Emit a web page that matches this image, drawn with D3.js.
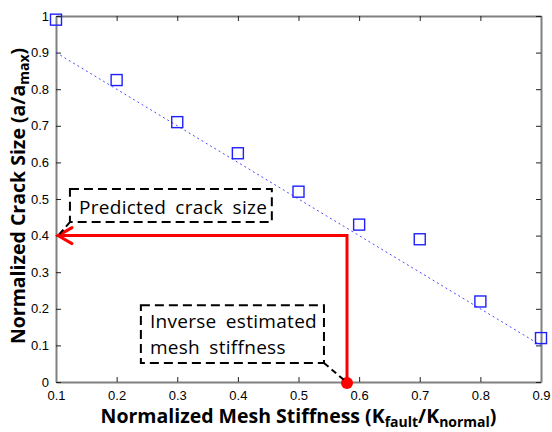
<!DOCTYPE html>
<html>
<head>
<meta charset="utf-8">
<script src="https://cdn.jsdelivr.net/npm/d3@7"></script>
<style>
  html, body { margin: 0; padding: 0; background: #fff; }
  svg { display: block; }
</style>
</head>
<body>
<svg id="chart" width="552" height="432"></svg>
<script>
// Measured crack size vs. normalized mesh stiffness
const stiffness = [0.1, 0.2, 0.3, 0.4, 0.5, 0.6, 0.7, 0.8, 0.9];
const crackSize = [0.99, 0.825, 0.71, 0.625, 0.52, 0.43, 0.39, 0.22, 0.12];

// Linear fit endpoints
const fitStiffness = [0.1, 0.9];
const fitCrack = [0.9, 0.1];

// Inverse estimate: predicted crack size and corresponding stiffness
const estStiffness = 0.58;
const estCrack = 0.4;

// Tick values
const xTicks = [0.1, 0.2, 0.3, 0.4, 0.5, 0.6, 0.7, 0.8, 0.9];
const yTicks = [0, 0.1, 0.2, 0.3, 0.4, 0.5, 0.6, 0.7, 0.8, 0.9, 1];

const svg = d3.select("#chart");
const plotL = 56, plotR = 541, plotT = 16, plotB = 382;

const x = d3.scaleLinear().domain([0.1, 0.9]).range([plotL, plotR]);
const y = d3.scaleLinear().domain([0, 1]).range([plotB, plotT]);

const tickFont = "'Liberation Sans', Arial, sans-serif";
const labelFont = "'Open Sans', 'Noto Sans', sans-serif";

// Axes (ticks point inward on all four sides)
function styleAxis(g) {
  g.select(".domain").attr("stroke", "#808080").attr("stroke-width", 2);
  g.selectAll(".tick line").attr("stroke", "#222").attr("stroke-width", 1);
  g.selectAll(".tick text").attr("fill", "#000")
    .style("font-family", tickFont).style("font-size", "13px");
}
const fmt = d => (d === 0 || d === 1) ? String(d) : d3.format(".1f")(d);

svg.append("g").attr("transform", `translate(0,${plotB})`)
  .call(d3.axisBottom(x).tickValues(xTicks).tickFormat(fmt).tickSizeInner(-5).tickSizeOuter(0).tickPadding(9))
  .call(styleAxis);
svg.append("g").attr("transform", `translate(0,${plotT})`)
  .call(d3.axisTop(x).tickValues(xTicks).tickFormat("").tickSizeInner(-5).tickSizeOuter(0))
  .call(styleAxis);
svg.append("g").attr("transform", `translate(${plotL},0)`)
  .call(d3.axisLeft(y).tickValues(yTicks).tickFormat(fmt).tickSizeInner(-5).tickSizeOuter(0).tickPadding(7))
  .call(styleAxis);
svg.append("g").attr("transform", `translate(${plotR},0)`)
  .call(d3.axisRight(y).tickValues(yTicks).tickFormat("").tickSizeInner(-5).tickSizeOuter(0))
  .call(styleAxis);

// Fit line
svg.append("line")
  .attr("x1", x(fitStiffness[0])).attr("y1", y(fitCrack[0]))
  .attr("x2", x(fitStiffness[1])).attr("y2", y(fitCrack[1]))
  .attr("stroke", "#4a4aff").attr("stroke-width", 1)
  .attr("stroke-dasharray", "2,3");

// Data markers
const sq = 11;
svg.append("g").selectAll("rect")
  .data(stiffness.map((s, i) => [s, crackSize[i]]))
  .join("rect")
  .attr("x", d => x(d[0]) - sq / 2).attr("y", d => y(d[1]) - sq / 2)
  .attr("width", sq).attr("height", sq)
  .attr("fill", "none").attr("stroke", "#2020ff").attr("stroke-width", 1.4);

// Inverse estimation path: from stiffness estimate up to fit, then across to crack axis
svg.append("path")
  .attr("d", d3.line()([
    [x(estStiffness), y(0)],
    [x(estStiffness), y(estCrack)],
    [x(0.1) + 2, y(estCrack)]
  ]))
  .attr("fill", "none").attr("stroke", "#ff0000").attr("stroke-width", 3)
  .attr("stroke-linejoin", "miter");

// Arrowhead
const ax = x(0.1) + 2, ay = y(estCrack);
svg.append("path")
  .attr("d", d3.line()([[ax + 14, ay - 8], [ax, ay], [ax + 14, ay + 8]]))
  .attr("fill", "none").attr("stroke", "#ff0000").attr("stroke-width", 3)
  .attr("stroke-linecap", "round").attr("stroke-linejoin", "miter");

svg.append("circle")
  .attr("cx", x(estStiffness)).attr("cy", y(0) + 1).attr("r", 6)
  .attr("fill", "#ff0000");

// Annotation callouts (data coordinates)
const calloutPredicted = { x0: 0.123, x1: 0.456, y0: 0.437, y1: 0.527 };
const calloutInverse = { x0: 0.240, x1: 0.542, y0: 0.052, y1: 0.210 };

function callout(box, lines, lineY, leader) {
  svg.append("rect")
    .attr("x", x(box.x0)).attr("y", y(box.y1))
    .attr("width", x(box.x1) - x(box.x0)).attr("height", y(box.y0) - y(box.y1))
    .attr("fill", "#fff").attr("stroke", "#000").attr("stroke-width", 2)
    .attr("stroke-dasharray", "9,5");
  svg.append("line")
    .attr("x1", leader[0][0]).attr("y1", leader[0][1])
    .attr("x2", leader[1][0]).attr("y2", leader[1][1])
    .attr("stroke", "#000").attr("stroke-width", 2).attr("stroke-dasharray", "6,4");
  lines.forEach((t, i) => {
    svg.append("text")
      .attr("x", x(box.x0) + 9).attr("y", lineY[i])
      .style("font-family", labelFont).style("font-size", "19px")
      .style("word-spacing", "4px").style("letter-spacing", "0.3px")
      .attr("fill", "#000").text(t);
  });
}

callout(calloutPredicted, ["Predicted crack size"],
  [y(calloutPredicted.y0) - 8],
  [[x(calloutPredicted.x0), y(calloutPredicted.y0)], [ax + 1, ay - 1]]);

callout(calloutInverse, ["Inverse estimated", "mesh stiffness"],
  [y(calloutInverse.y1) + 23, y(calloutInverse.y1) + 49],
  [[x(calloutInverse.x1), y(calloutInverse.y0)], [x(estStiffness) - 3, y(0) - 2]]);

// Axis titles
const xt = svg.append("text")
  .attr("x", (plotL + plotR) / 2).attr("y", 423)
  .attr("text-anchor", "middle")
  .style("font-family", labelFont).style("font-size", "19.5px").style("font-weight", "bold")
  .attr("fill", "#000");
xt.append("tspan").text("Normalized Mesh Stiffness (K");
xt.append("tspan").attr("dy", 4).style("font-size", "14px").text("fault");
xt.append("tspan").attr("dy", -4).text("/K");
xt.append("tspan").attr("dy", 4).style("font-size", "14px").text("normal");
xt.append("tspan").attr("dy", -4).text(")");

const yt = svg.append("text")
  .attr("transform", `translate(25,${(plotT + plotB) / 2 - 3}) rotate(-90)`)
  .attr("text-anchor", "middle")
  .style("font-family", labelFont).style("font-size", "19.5px").style("font-weight", "bold")
  .attr("fill", "#000");
yt.append("tspan").text("Normalized Crack Size (a/a");
yt.append("tspan").attr("dy", 4).style("font-size", "14px").text("max");
yt.append("tspan").attr("dy", -4).text(")");
</script>
</body>
</html>
